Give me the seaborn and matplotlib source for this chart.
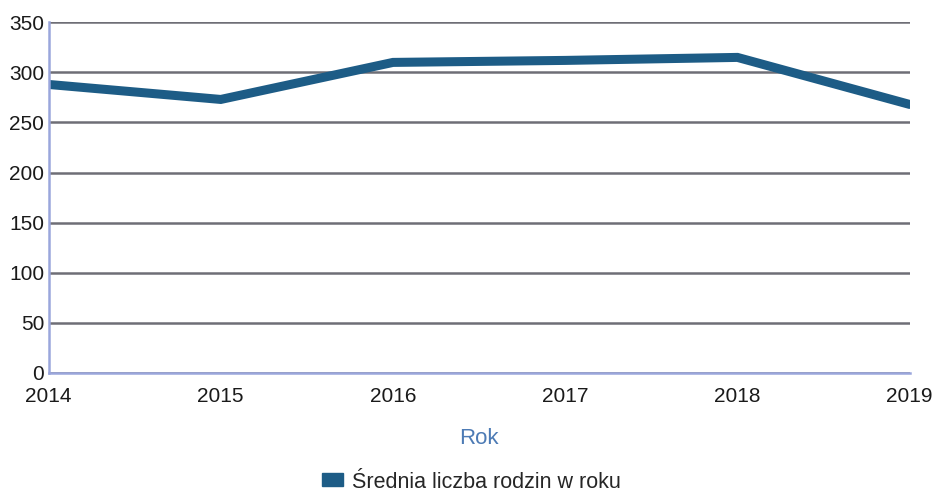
import pandas as pd
import seaborn as sns
import matplotlib.pyplot as plt
from matplotlib.patches import Patch

years = [2014, 2015, 2016, 2017, 2018, 2019]
families = [288, 273, 310, 312, 315, 268]
series_name = "Średnia liczba rodzin w roku"

df = pd.DataFrame({"Rok": years, "value": families})

sns.set_theme(style="white")
plt.rcParams["font.family"] = ["Liberation Sans", "DejaVu Sans"]

line_color = "#1d5c86"

fig = plt.figure(figsize=(9.33, 4.97), dpi=100)
ax = fig.add_axes([0.052, 0.25, 0.923, 0.705])

sns.lineplot(data=df, x="Rok", y="value", ax=ax, color=line_color,
             linewidth=6.5, solid_joinstyle="miter", legend=False)

ax.set_xlim(2014, 2019)
ax.set_ylim(0, 350)
ax.set_yticks(range(0, 351, 50))
ax.set_xticks(years)
ax.yaxis.grid(True, color="#6e6e76", linewidth=1.8)
ax.set_axisbelow(True)

for side in ["top", "right"]:
    ax.spines[side].set_visible(False)
for side in ["left", "bottom"]:
    ax.spines[side].set_color("#9aa6dc")
    ax.spines[side].set_linewidth(1.8)

ax.tick_params(axis="y", length=0, pad=3, labelsize=15, labelcolor="#1a1a1a")
ax.tick_params(axis="x", length=0, pad=10, labelsize=15, labelcolor="#1a1a1a")

ax.set_ylabel("")
ax.set_xlabel("Rok", color="#4d7bb5", fontsize=16, labelpad=16)

handle = Patch(facecolor=line_color, edgecolor=line_color)
fig.legend([handle], [series_name], loc="center", bbox_to_anchor=(0.505, 0.03),
           frameon=False, fontsize=15.5, handlelength=1.0, handleheight=0.55,
           handletextpad=0.4)

fig.savefig("out.png", dpi=100)
